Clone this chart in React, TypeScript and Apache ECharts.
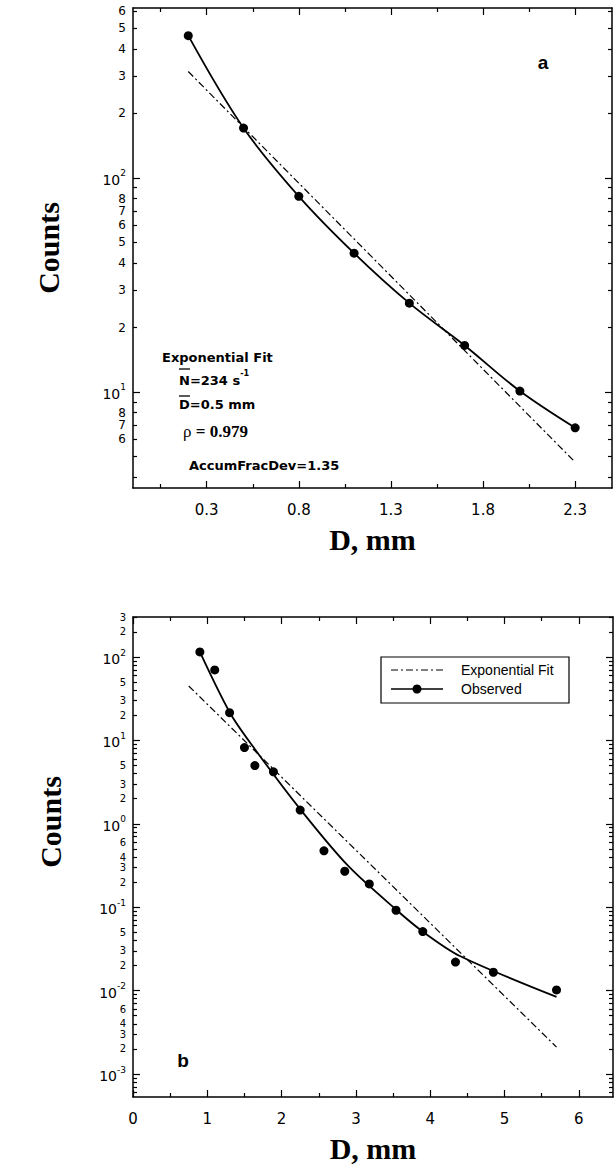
import React, { useEffect, useRef } from "react";
import * as echarts from "echarts";

// ---------- Panel a ----------
const D_A = [0.2, 0.5, 0.8, 1.1, 1.4, 1.7, 2.0, 2.3];
const COUNTS_A = [462, 171, 82, 44.5, 26, 16.5, 10.1, 6.8];
const FIT_D_A = [0.2, 2.3];
const FIT_A = [314, 4.7];
const X_RANGE_A = [-0.1, 2.5];
const Y_RANGE_A = [3.56, 622];
const X_MAJOR_A = [0.3, 0.8, 1.3, 1.8, 2.3];
const X_MINOR_A = [0.05, 0.55, 1.05, 1.55, 2.05];
const Y_LABELS_A = [600, 500, 400, 300, 200, 100, 80, 70, 60, 50, 40, 30, 20, 10, 8, 7, 6];
const Y_DECADES_A = [1, 10, 100];

// ---------- Panel b ----------
const D_B = [0.9, 1.1, 1.3, 1.5, 1.64, 1.89, 2.25, 2.57, 2.85, 3.18, 3.54, 3.9, 4.34, 4.85, 5.7];
const COUNTS_B = [115, 70, 21.5, 8.2, 5.0, 4.2, 1.46, 0.475, 0.27, 0.19, 0.092, 0.051, 0.022, 0.0166, 0.0102];
const CURVE_D_B = [0.9, 1.3, 1.6, 2.25, 2.9, 3.55, 3.9, 4.4, 5.7];
const CURVE_B = [115, 21.8, 8.8, 1.5, 0.31, 0.092, 0.051, 0.026, 0.0084];
const FIT_D_B = [0.75, 5.7];
const FIT_B = [45, 0.0021];
const X_RANGE_B = [0, 6.46];
const Y_RANGE_B = [5.3e-4, 302];
const X_MAJOR_B = [0, 1, 2, 3, 4, 5, 6];
const X_MINOR_B = [0.5, 1.5, 2.5, 3.5, 4.5, 5.5];
const Y_LABELS_B = [300, 200, 100, 50, 30, 20, 10, 5, 3, 2, 1, 0.6, 0.4, 0.3, 0.2, 0.1, 0.05, 0.03, 0.02, 0.01, 0.006, 0.004, 0.003, 0.002, 0.001];
const Y_DECADES_B = [0.0001, 0.001, 0.01, 0.1, 1, 10, 100];

const MINOR_MULT = [2, 3, 4, 5, 6, 7, 8, 9];

const SANS = "'DejaVu Sans', sans-serif";
const ARIAL = "'Liberation Sans', Arial, sans-serif";
const SERIF = "'Liberation Serif', 'Times New Roman', serif";
const BLACK = "#000";

const GRID_A = { left: 133, top: 8, width: 479, height: 480 };
const GRID_B = { left: 133, top: 617, width: 480, height: 480 };

const tick = (vals: number[], len: number) => ({
  show: true,
  inside: true,
  length: len,
  customValues: vals,
  lineStyle: { color: BLACK, width: 1.2 },
});

const axisLineOn = { show: true, onZero: false, lineStyle: { color: BLACK, width: 1.5 } };
const axisLineOff = { show: false, onZero: false };

const nameStyle = { fontFamily: SERIF, fontWeight: "bold", fontSize: 30, color: BLACK };

function makeXAxes(gi: number, range: number[], major: number[], minor: number[]) {
  const base = {
    type: "value",
    gridIndex: gi,
    min: range[0],
    max: range[1],
    splitLine: { show: false },
  };
  return [
    {
      ...base,
      position: "bottom",
      axisLine: axisLineOn,
      axisTick: tick(major, 7),
      axisLabel: {
        customValues: major,
        formatter: (v: number) => String(Math.round(v * 10) / 10),
        margin: 14,
        fontSize: 15,
        fontFamily: SANS,
        color: BLACK,
        hideOverlap: false,
      },
      name: "D, mm",
      nameLocation: "middle",
      nameGap: 36,
      nameTextStyle: nameStyle,
    },
    { ...base, position: "bottom", axisLine: axisLineOff, axisTick: tick(minor, 4), axisLabel: { show: false } },
    { ...base, position: "top", axisLine: axisLineOn, axisTick: tick(major, 7), axisLabel: { show: false } },
    { ...base, position: "top", axisLine: axisLineOff, axisTick: tick(minor, 4), axisLabel: { show: false } },
  ];
}

const yLabelFormatter = (v: number) => {
  const e = Math.floor(v + 1e-6);
  const m = Math.round(Math.pow(10, v - e));
  if (m === 1) return `{b|10}{s|${e}}`;
  if (m === 10) return `{b|10}{s|${e + 1}}`;
  return `{m|${m}}`;
};

const makeRich = (minorSize: number) => ({
  b: { fontSize: 14, fontFamily: SANS, color: BLACK, lineHeight: 18, verticalAlign: "bottom" },
  s: { fontSize: 9, fontFamily: SANS, color: BLACK, lineHeight: 10, verticalAlign: "top" },
  m: { fontSize: minorSize, fontFamily: SANS, color: BLACK, lineHeight: minorSize - 1 },
});

function makeYAxes(
  gi: number,
  range: number[],
  decades: number[],
  labels: number[],
  withName: boolean,
  minorSize: number
) {
  const inR = (v: number) => v >= range[0] && v <= range[1];
  const major = decades.filter(inR).map((v) => Math.log10(v));
  const minor = decades
    .flatMap((d) => MINOR_MULT.map((m) => m * d))
    .filter(inR)
    .map((v) => Math.log10(v));
  const base = {
    type: "value",
    gridIndex: gi,
    min: Math.log10(range[0]),
    max: Math.log10(range[1]),
    splitLine: { show: false },
  };
  const nameOpts = withName
    ? { name: "Counts", nameLocation: "middle", nameRotate: 90, nameGap: 70, nameTextStyle: nameStyle }
    : {};
  return [
    { type: "log", gridIndex: gi, logBase: 10, min: range[0], max: range[1], show: false },
    {
      ...base,
      position: "left",
      axisLine: axisLineOn,
      axisTick: tick(major, 7),
      axisLabel: {
        customValues: labels.map((v) => Math.log10(v)),
        formatter: yLabelFormatter,
        rich: makeRich(minorSize),
        margin: 7,
        color: BLACK,
        hideOverlap: false,
      },
      ...nameOpts,
    },
    { ...base, position: "left", axisLine: axisLineOff, axisTick: tick(minor, 4), axisLabel: { show: false } },
    { ...base, position: "right", axisLine: axisLineOn, axisTick: tick(major, 7), axisLabel: { show: false } },
    { ...base, position: "right", axisLine: axisLineOff, axisTick: tick(minor, 4), axisLabel: { show: false } },
  ];
}

const pairs = (xs: number[], ys: number[]) => xs.map((x, i) => [x, ys[i]]);

const DASHDOT = [7, 3, 2, 3];

const txt = (x: number, y: number, style: any, extra: any = {}) => ({
  type: "text",
  x,
  y,
  z: 100,
  style: { fill: BLACK, textVerticalAlign: "middle", verticalAlign: "middle", ...style },
  ...extra,
});

const graphics: any[] = [
  // panel a annotations
  txt(543, 62, { text: "a", fontSize: 19, fontWeight: "bold", fontFamily: ARIAL, textAlign: "center", align: "center" }),
  txt(162, 357, { text: "Exponential Fit", fontSize: 13, fontWeight: "bold", fontFamily: SANS }),
  txt(179, 378, {
    text: "{t|N=234 s}{u|-1}",
    rich: {
      t: { fontSize: 13, fontWeight: "bold", fontFamily: SANS, fill: BLACK, lineHeight: 17, verticalAlign: "bottom" },
      u: { fontSize: 8, fontWeight: "bold", fontFamily: SANS, fill: BLACK, lineHeight: 9, verticalAlign: "top" },
    },
  }),
  { type: "line", z: 100, shape: { x1: 179, y1: 369, x2: 190, y2: 369 }, style: { stroke: BLACK, lineWidth: 1.3 } },
  txt(179, 404, { text: "D=0.5 mm", fontSize: 13, fontWeight: "bold", fontFamily: SANS }),
  { type: "line", z: 100, shape: { x1: 179, y1: 396, x2: 190, y2: 396 }, style: { stroke: BLACK, lineWidth: 1.3 } },
  txt(183, 431, {
    text: "{r|ρ}{v| = 0.979}",
    rich: {
      r: { fontSize: 17, fontFamily: SERIF, fill: BLACK },
      v: { fontSize: 17, fontWeight: "bold", fontFamily: SERIF, fill: BLACK },
    },
  }),
  txt(189, 465, { text: "AccumFracDev=1.35", fontSize: 13, fontWeight: "bold", fontFamily: SANS }),
  // panel b annotations
  txt(183, 1060, { text: "b", fontSize: 19, fontWeight: "bold", fontFamily: ARIAL, textAlign: "center", align: "center" }),
  txt(50, 822, { text: "Counts", ...nameStyle, textAlign: "center", align: "center" }, { rotation: Math.PI / 2 }),
  // legend box
  {
    type: "rect",
    z: 100,
    shape: { x: 381, y: 657, width: 188, height: 46 },
    style: { fill: "#fff", stroke: BLACK, lineWidth: 1.2 },
  },
  {
    type: "line",
    z: 101,
    shape: { x1: 391, y1: 670, x2: 443, y2: 670 },
    style: { stroke: BLACK, lineWidth: 1.2, lineDash: DASHDOT },
  },
  txt(461, 670, { text: "Exponential Fit", fontSize: 14, fontFamily: ARIAL }, { z: 101 }),
  {
    type: "line",
    z: 101,
    shape: { x1: 391, y1: 689, x2: 443, y2: 689 },
    style: { stroke: BLACK, lineWidth: 1.6 },
  },
  { type: "circle", z: 102, shape: { cx: 417, cy: 689, r: 4.5 }, style: { fill: BLACK } },
  txt(461, 689, { text: "Observed", fontSize: 14, fontFamily: ARIAL }, { z: 101 }),
];

const option: any = {
  animation: false,
  backgroundColor: "#fff",
  grid: [
    { ...GRID_A, outerBoundsMode: "none", containLabel: false },
    { ...GRID_B, outerBoundsMode: "none", containLabel: false },
  ],
  xAxis: [
    ...makeXAxes(0, X_RANGE_A, X_MAJOR_A, X_MINOR_A),
    ...makeXAxes(1, X_RANGE_B, X_MAJOR_B, X_MINOR_B),
  ],
  yAxis: [
    ...makeYAxes(0, Y_RANGE_A, Y_DECADES_A, Y_LABELS_A, true, 12),
    ...makeYAxes(1, Y_RANGE_B, Y_DECADES_B, Y_LABELS_B, false, 10),
  ],
  series: [
    {
      name: "Exponential Fit",
      type: "line",
      xAxisIndex: 0,
      yAxisIndex: 0,
      data: pairs(FIT_D_A, FIT_A),
      symbol: "none",
      lineStyle: { color: BLACK, width: 1.2, type: DASHDOT },
      z: 2,
    },
    {
      name: "Observed",
      type: "line",
      xAxisIndex: 0,
      yAxisIndex: 0,
      data: pairs(D_A, COUNTS_A),
      smooth: 0.35,
      symbol: "circle",
      symbolSize: 9,
      showSymbol: true,
      itemStyle: { color: BLACK, opacity: 1 },
      lineStyle: { color: BLACK, width: 1.8 },
      z: 3,
    },
    {
      name: "Exponential Fit",
      type: "line",
      xAxisIndex: 4,
      yAxisIndex: 5,
      data: pairs(FIT_D_B, FIT_B),
      symbol: "none",
      lineStyle: { color: BLACK, width: 1.2, type: DASHDOT },
      z: 2,
    },
    {
      name: "Observed fit curve",
      type: "line",
      xAxisIndex: 4,
      yAxisIndex: 5,
      data: pairs(CURVE_D_B, CURVE_B),
      smooth: 0.3,
      symbol: "none",
      lineStyle: { color: BLACK, width: 1.8 },
      z: 3,
    },
    {
      name: "Observed",
      type: "scatter",
      xAxisIndex: 4,
      yAxisIndex: 5,
      data: pairs(D_B, COUNTS_B),
      symbol: "circle",
      symbolSize: 9,
      itemStyle: { color: BLACK, opacity: 1 },
      z: 4,
    },
  ],
  graphic: graphics,
};

export default function App() {
  const ref = useRef<HTMLDivElement>(null);
  useEffect(() => {
    document.body.style.margin = "0";
    const chart = echarts.init(ref.current!, null, { renderer: "svg" });
    chart.setOption(option);
    return () => chart.dispose();
  }, []);
  return <div ref={ref} style={{ width: 615, height: 1169, background: "#fff" }} />;
}
